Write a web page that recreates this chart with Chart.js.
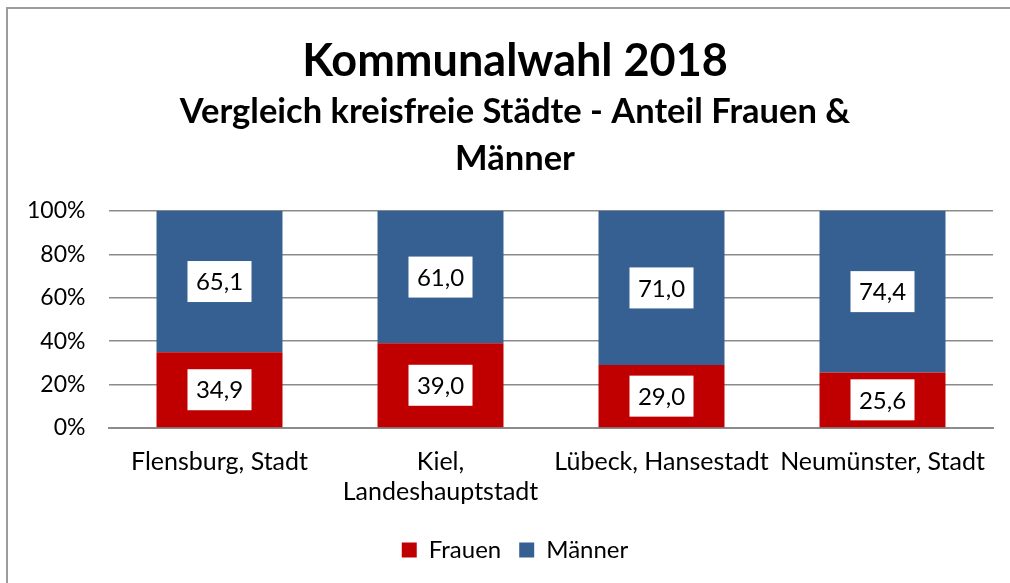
<!DOCTYPE html>
<html>
<head>
<meta charset="utf-8">
<script src="https://cdn.jsdelivr.net/npm/chart.js@4/dist/chart.umd.min.js"></script>
<style>
  html, body { margin: 0; padding: 0; background: #fff; overflow: hidden; }
  #wrap { position: relative; width: 1010px; height: 583px; }
  #frame {
    position: absolute; left: 6px; top: 7px; width: 1100px; height: 700px;
    border: 2px solid #9c9c9c; pointer-events: none;
  }
</style>
</head>
<body>
<div id="wrap">
  <canvas id="chart" width="1010" height="583"></canvas>
  <div id="frame"></div>
</div>
<script>
const FONT = "Lato, 'Open Sans', sans-serif";

const categories = [
  "Flensburg, Stadt",
  ["Kiel,", "Landeshauptstadt"],
  "Lübeck, Hansestadt",
  "Neumünster, Stadt",
];
const frauen = [34.9, 39.0, 29.0, 25.6];
const maenner = [65.1, 61.0, 71.0, 74.4];
const yTicks = [0, 20, 40, 60, 80, 100];

// white boxes with the value in the middle of every segment
const valueBoxes = {
  id: "valueBoxes",
  afterDatasetsDraw(chart) {
    const ctx = chart.ctx;
    ctx.save();
    ctx.font = "24px " + FONT;
    ctx.textAlign = "center";
    ctx.textBaseline = "middle";
    chart.data.datasets.forEach((ds, i) => {
      const meta = chart.getDatasetMeta(i);
      meta.data.forEach((bar, j) => {
        const cy = (bar.y + bar.base) / 2;
        const w = 64, h = 41;
        ctx.fillStyle = "#fff";
        ctx.fillRect(bar.x - w / 2, cy - h / 2, w, h);
        ctx.fillStyle = "#000";
        ctx.fillText(ds.data[j].toFixed(1).replace(".", ","), bar.x, cy + 1);
      });
    });
    ctx.restore();
  },
};

new Chart(document.getElementById("chart"), {
  type: "bar",
  data: {
    labels: categories,
    datasets: [
      { label: "Frauen", data: frauen, backgroundColor: "#C00000" },
      { label: "Männer", data: maenner, backgroundColor: "#376092" },
    ],
  },
  options: {
    responsive: false,
    animation: false,
    layout: { padding: { left: 37, right: 17, top: 0, bottom: 11 } },
    datasets: {
      bar: { categoryPercentage: 1, barPercentage: 0.57 },
    },
    scales: {
      x: {
        stacked: true,
        afterFit(scale) { scale.height = 92; },
        grid: { display: false, drawTicks: false },
        border: { display: true, color: "#8b8b8b", width: 2 },
        ticks: {
          color: "#000",
          font: { family: FONT, size: 25, lineHeight: 1.2 },
          padding: 19,
          maxRotation: 0,
          autoSkip: false,
        },
      },
      y: {
        stacked: true,
        min: 0,
        max: 100,
        afterFit(scale) { scale.width = 72; },
        afterBuildTicks(scale) { scale.ticks = yTicks.map((v) => ({ value: v })); },
        grid: { color: "#8b8b8b", lineWidth: 1.5, drawTicks: false },
        border: { display: false },
        ticks: {
          color: "#000",
          font: { family: FONT, size: 23 },
          // mirrored so the labels are not clipped to the axis box
          mirror: true,
          crossAlign: "far",
          padding: -82,
          callback: (v) => v + "%",
        },
      },
    },
    plugins: {
      title: {
        display: true,
        text: "Kommunalwahl 2018",
        color: "#000",
        font: { family: FONT, size: 45, weight: "bold", lineHeight: 1.2 },
        padding: { top: 34, bottom: 0 },
      },
      subtitle: {
        display: true,
        text: ["Vergleich kreisfreie Städte - Anteil Frauen &", "Männer"],
        color: "#000",
        font: { family: FONT, size: 34.5, weight: "bold", lineHeight: 1.36 },
        padding: { top: 0, bottom: 29 },
      },
      legend: {
        position: "bottom",
        labels: {
          color: "#000",
          font: { family: FONT, size: 24 },
          boxWidth: 15,
          boxHeight: 15,
          padding: 18,
        },
      },
      tooltip: { enabled: false },
    },
  },
  plugins: [valueBoxes],
});
</script>
</body>
</html>
